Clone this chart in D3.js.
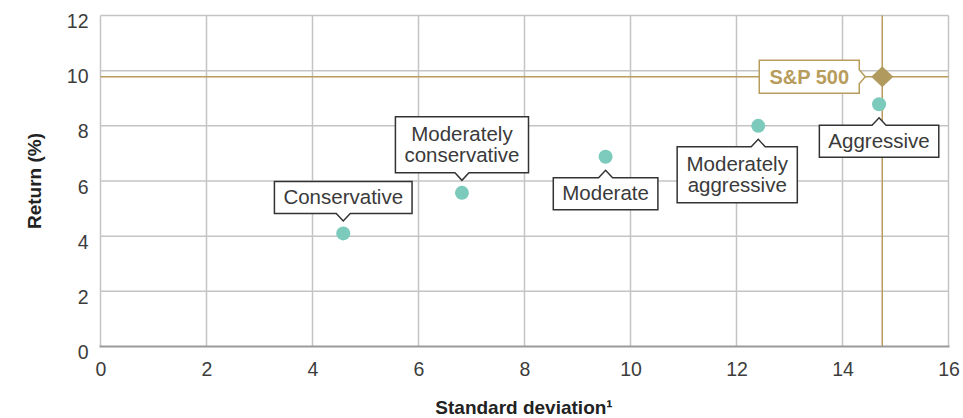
<!DOCTYPE html>
<html>
<head>
<meta charset="utf-8">
<script src="https://cdn.jsdelivr.net/npm/d3@7"></script>
<style>
  body { margin: 0; background: #fff; }
  svg { display: block; font-family: "Liberation Sans", Arial, Helvetica, sans-serif; }
</style>
</head>
<body>
<svg id="chart" width="963" height="418"></svg>
<script>
// portfolio risk / return
const portfolios = ['Conservative', 'Moderately conservative', 'Moderate', 'Moderately aggressive', 'Aggressive'];
const labelLines = [['Conservative'], ['Moderately', 'conservative'], ['Moderate'], ['Moderately', 'aggressive'], ['Aggressive']];
const stdDev = [4.58, 6.82, 9.53, 12.41, 14.69];
const returns = [4.1, 5.57, 6.88, 8.0, 8.78];

const benchmarkName = 'S&P 500';
const benchmarkStd = 14.75;
const benchmarkReturn = 9.78;

const xTicks = [0, 2, 4, 6, 8, 10, 12, 14, 16];
const yTicks = [0, 2, 4, 6, 8, 10, 12];

// where each callout sits relative to its dot
const placement = ['above', 'above', 'below', 'below', 'below'];
const shiftX = [0, 0, 0, -21, 0];

const gold = '#b79c5c';
const teal = '#7ccabb';
const gridColor = '#c4c4c4';

const svg = d3.select('#chart');

const x = d3.scaleLinear().domain([0, 16]).range([100.5, 948.5]);
const y = d3.scaleLinear().domain([0, 12]).range([346.5, 15.5]);

// grid
const grid = svg.append('g').attr('class', 'grid');
grid.selectAll('line.v')
  .data(xTicks)
  .enter().append('line')
    .attr('class', 'v')
    .attr('x1', d => x(d)).attr('x2', d => x(d))
    .attr('y1', y(12)).attr('y2', y(0))
    .attr('stroke', gridColor).attr('stroke-width', 1.5);
grid.selectAll('line.h')
  .data(yTicks.filter(d => d > 0))
  .enter().append('line')
    .attr('class', 'h')
    .attr('x1', x(0)).attr('x2', x(16))
    .attr('y1', d => y(d)).attr('y2', d => y(d))
    .attr('stroke', gridColor).attr('stroke-width', 1.5);

// benchmark cross lines
svg.append('line')
  .attr('x1', x(0)).attr('x2', x(16))
  .attr('y1', y(benchmarkReturn)).attr('y2', y(benchmarkReturn))
  .attr('stroke', gold).attr('stroke-width', 1.5);
svg.append('line')
  .attr('x1', x(benchmarkStd)).attr('x2', x(benchmarkStd))
  .attr('y1', y(12)).attr('y2', y(0))
  .attr('stroke', gold).attr('stroke-width', 1.5);

// baseline
svg.append('line')
  .attr('x1', x(0) - 1).attr('x2', x(16) + 1)
  .attr('y1', y(0)).attr('y2', y(0))
  .attr('stroke', '#9a9a9a').attr('stroke-width', 2);

// axes
const xAxis = d3.axisBottom(x).tickValues(xTicks).tickSize(0).tickFormat(d3.format('d'));
const yAxis = d3.axisLeft(y).tickValues(yTicks).tickSize(0).tickPadding(12).tickFormat(d3.format('d'));

const gx = svg.append('g')
    .attr('transform', 'translate(0,' + y(0) + ')')
    .call(xAxis);
gx.select('.domain').remove();
gx.selectAll('text')
    .attr('y', 0).attr('dy', 29.5)
    .attr('fill', '#3c3c3c')
    .style('font-size', '19.5px');

const gy = svg.append('g')
    .attr('transform', 'translate(' + x(0) + ',0)')
    .call(yAxis);
gy.select('.domain').remove();
gy.selectAll('text')
    .attr('dy', 12)
    .attr('fill', '#3c3c3c')
    .style('font-size', '19.5px');

svg.append('text')
    .attr('x', 524)
    .attr('y', 414)
    .attr('text-anchor', 'middle')
    .attr('fill', '#222')
    .style('font-size', '19px')
    .style('font-weight', 'bold')
    .text('Standard deviation\u00b9');

svg.append('text')
    .attr('transform', 'translate(41,' + ((y(0) + y(12)) / 2) + ') rotate(-90)')
    .attr('text-anchor', 'middle')
    .attr('fill', '#222')
    .style('font-size', '19px')
    .style('font-weight', 'bold')
    .text('Return (%)');

// dots
const dataset = portfolios.map((name, i) => ({
  name: name,
  lines: labelLines[i],
  sd: stdDev[i],
  ret: returns[i],
  place: placement[i],
  dx: shiftX[i]
}));

svg.selectAll('circle.dot')
  .data(dataset)
  .enter().append('circle')
    .attr('class', 'dot')
    .attr('cx', d => x(d.sd))
    .attr('cy', d => y(d.ret))
    .attr('r', 7)
    .attr('fill', teal);

// callouts
const fontSize = 20.5;
const lineH = 20.5;
const padX = 9;
const notch = 7;

dataset.forEach(d => {
  const px = x(d.sd), py = y(d.ret);
  const g = svg.append('g');
  const path = g.append('path');
  const n = d.lines.length;
  const h = 32 + (n - 1) * 24;
  const top = d.place === 'above' ? py - 20 - h : py + 21;
  const cx = px + d.dx;
  const cy = top + h / 2;

  const txt = g.append('text')
    .attr('text-anchor', 'middle')
    .attr('fill', '#3a3a3a')
    .style('font-size', fontSize + 'px');
  d.lines.forEach((l, j) => {
    txt.append('tspan')
      .attr('x', cx)
      .attr('y', cy + 6.6 + (j - (n - 1) / 2) * lineH)
      .text(l);
  });
  const w = txt.node().getBBox().width + padX * 2;
  const l = cx - w / 2, r = cx + w / 2, b = top + h;

  let p;
  if (d.place === 'above') {
    const tip = py - 12.5;
    p = `M${l},${top}H${r}V${b}H${px + notch}L${px},${tip}L${px - notch},${b}H${l}Z`;
  } else {
    const tip = py + 13.5;
    p = `M${l},${top}H${px - notch}L${px},${tip}L${px + notch},${top}H${r}V${b}H${l}Z`;
  }
  path.attr('d', p)
    .attr('fill', '#fff')
    .attr('stroke', '#333')
    .attr('stroke-width', 1.5);
});

// benchmark marker and callout
const bx = x(benchmarkStd), by = y(benchmarkReturn);
svg.append('path')
  .attr('d', `M${bx},${by - 10.5}L${bx + 11},${by}L${bx},${by + 10.5}L${bx - 11},${by}Z`)
  .attr('fill', '#b09a5e');

const bg = svg.append('g');
const bpath = bg.append('path');
const btxt = bg.append('text')
  .attr('text-anchor', 'middle')
  .attr('fill', gold)
  .style('font-size', '20px')
  .style('font-weight', 'bold')
  .text(benchmarkName);
const bw = btxt.node().getBBox().width + 20;
const br = bx - 23, bl = br - Math.max(bw, 100);
const bt = by - 16.5, bb = by + 16.5;
btxt.attr('x', (bl + br) / 2).attr('y', by + 7);
bpath.attr('d', `M${bl},${bt}H${br}V${by - 7}L${bx - 17},${by}L${br},${by + 7}V${bb}H${bl}Z`)
  .attr('fill', '#fff')
  .attr('stroke', gold)
  .attr('stroke-width', 1.5);
</script>
</body>
</html>
